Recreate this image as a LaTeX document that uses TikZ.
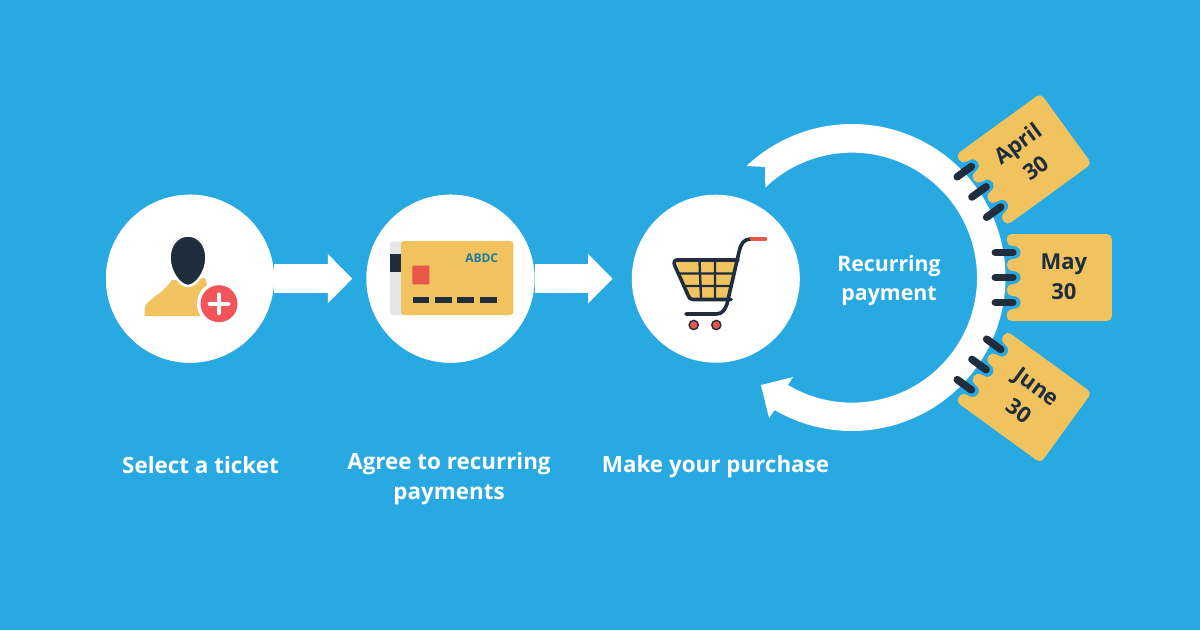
\documentclass[tikz,border=0pt]{standalone}
\usepackage{fontspec}
\setmainfont{Open Sans}
\usetikzlibrary{arrows.meta,calc}
\definecolor{bgblue}{HTML}{29A9E2}
\definecolor{tickety}{HTML}{F0C35F}
\definecolor{inkdark}{HTML}{1F2D3D}
\definecolor{badgered}{HTML}{F2545B}
\definecolor{chipred}{HTML}{E8574A}
\definecolor{cardgray}{HTML}{E6E6E6}
\definecolor{cardblue}{HTML}{1A7A9E}
\tikzset{
  stepcircle/.style={circle,fill=white,draw=none,minimum size=168pt,inner sep=0pt},
  blockarrow/.style={white,line width=29pt,-{Triangle[length=24.5pt,width=48pt,sep=0pt]}},
  steplabel/.style={font=\bfseries\fontsize{22.4}{30}\selectfont,text=white,align=center,inner sep=0pt},
  centerlabel/.style={font=\bfseries\fontsize{21.3}{29}\selectfont,text=white,align=center,inner sep=0pt},
  tickettext/.style={font=\bfseries\fontsize{22}{21}\selectfont,text=inkdark,inner sep=0pt,text height=15pt,text depth=0pt},
  cartline/.style={draw=inkdark,line width=3.6pt,line cap=round,line join=round},
  ringtie/.style={draw=inkdark,line width=7.5pt,line cap=round},
}
\newcommand{\ticket}[6]{%
  \begin{scope}[shift={(#2,#3)},rotate=#4]
    \fill[tickety] (-52.5,-38.5) .. controls (-52.5,-41.5) and (-50.5,-43.5) .. (-47.5,-43.5)
      -- (47.5,-43.5) .. controls (50.5,-43.5) and (52.5,-41.5) .. (52.5,-38.5)
      -- (52.5,38.5) .. controls (52.5,41.5) and (50.5,43.5) .. (47.5,43.5)
      -- (-47.5,43.5) .. controls (-50.5,43.5) and (-52.5,41.5) .. (-52.5,38.5)
      \foreach \yy in {25,0,-25} {
        .. controls (-52.5,\yy+9.5) and (-51.5,\yy+7) .. (-45,\yy+6.3)
        arc[start angle=90,end angle=-90,radius=6.3pt]
        .. controls (-51.5,\yy-7) and (-52.5,\yy-9.5) .. (-52.5,\yy-12.5)
      } -- cycle;
    \foreach \yy in {25,0,-25} \draw[ringtie] (-64,\yy) -- (-46.5,\yy);
    \node[tickettext,rotate=-(#4)] (#1a) at (4.5,-16) {#5};
    \node[tickettext,rotate=-(#4)] (#1b) at (4.5,14.3) {#6};
  \end{scope}}
\begin{document}
\begin{tikzpicture}[x=1pt,y=1pt,yscale=-1]
\useasboundingbox (0,0) rectangle (1200,630);
\fill[bgblue] (0,0) rectangle (1200,630);
% ring with two arrow heads
\coordinate (rc) at (852,277.5);
\fill[white] ($(rc)+(226.6:153.5)$) arc[start angle=226.6,end angle=480.3,radius=153.5pt]
  -- (769,418) -- (761,385) -- (793,377) -- (788,385)
  arc[start angle=480.8,end angle=226.1,radius=125pt]
  -- (765,167) -- cycle;
% step circles
\node[stepcircle] (s1) at (190,278.7) {};
\node[stepcircle] (s2) at (450.5,278.7) {};
\node[stepcircle] (s3) at (715.8,278.7) {};
\draw[blockarrow,shorten >=14pt] (s1) -- (s2);
\draw[blockarrow,shorten >=19pt] (s2) -- (s3);
\node[stepcircle] at (s1) {};
\node[stepcircle] at (s2) {};
% person
\fill[tickety] (144.5,316) -- (144.5,309) .. controls (146,299) and (160,297) .. (172,280)
  -- (205,278) .. controls (208,285) and (210,300) .. (205,316) -- cycle;
\fill[inkdark,draw=white,line width=2.5pt] (188,235.5) .. controls (177,235.5) and (169.5,245) .. (169.5,258)
  .. controls (169.5,272) and (180,286) .. (188,286)
  .. controls (196,286) and (206.5,272) .. (206.5,258)
  .. controls (206.5,245) and (199,235.5) .. (188,235.5) -- cycle;
\fill[white] (219,303.7) circle[radius=22pt];
\fill[badgered] (219,303.7) circle[radius=18.5pt];
\draw[white,line width=3.6pt,line cap=round] (209.5,303.7) -- (228.5,303.7) (219,294.2) -- (219,313.2);
% card
\fill[cardgray,rounded corners=3pt] (390,241.5) rectangle (415,315);
\fill[inkdark] (390,254) rectangle (402,271.7);
\fill[tickety,rounded corners=3pt] (401,241) rectangle (513.3,315);
\fill[chipred,rounded corners=1pt] (412.3,265.7) rectangle (429.3,284.3);
\foreach \xx in {412.7,435,457.3,480}
  \fill[inkdark] (\xx,296.7) rectangle (\xx+16.7,302.7);
\node[font=\bfseries\fontsize{12}{12}\selectfont,text=cardblue,inner sep=0pt] (abdc) at (481.7,258.3) {ABDC};
% cart
\fill[tickety] (676,261) -- (738,261) -- (729,299) -- (690,299) -- cycle;
\draw[draw=inkdark,line width=2.4pt] (699.5,261) -- (701,298) (715,261) -- (715,298)
  (679,273.5) -- (735,273.5) (683,286) -- (732,286);
\draw[cartline] (738,260) -- (677,260) .. controls (674,260) and (673.5,263) .. (675,266) -- (688,295)
  .. controls (689,298) and (690,299.5) .. (693,299.5) -- (731,299.5);
\draw[cartline] (686,314) -- (716,314) .. controls (723,314) and (725,309) .. (727,304)
  -- (739,252) .. controls (741,243) and (744,239) .. (751,239);
\draw[chipred,line width=4.5pt,line cap=round] (752,239) -- (765,239);
\foreach \xx in {693.7,716.3}
  \fill[chipred,draw=inkdark,line width=1.4pt] (\xx,325) circle[radius=4.6pt];
% tickets
\ticket{t1}{1023.7}{159.4}{-36}{April}{30}
\ticket{t2}{1059.3}{277.5}{0}{May}{30}
\ticket{t3}{1023.7}{397}{36}{June}{30}
% texts
\node[centerlabel] (rp) at (889,280.5) {Recurring\\payment};
\node[steplabel] (l1) at (200.5,465) {Select a ticket};
\node[steplabel,anchor=north] (l2) at (449,452) {Agree to recurring\\payments};
\node[steplabel] (l3) at (715.5,466.5) {Make your purchase};
\end{tikzpicture}
\end{document}
